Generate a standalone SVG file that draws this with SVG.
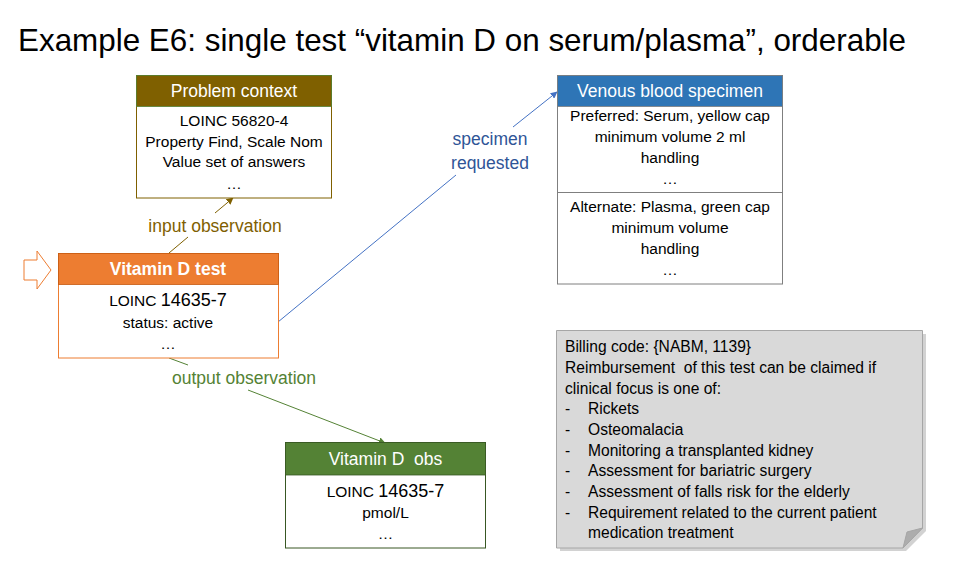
<svg xmlns="http://www.w3.org/2000/svg" width="953" height="567" viewBox="0 0 953 567">
<defs>
<style>
text{font-family:"Liberation Sans",Arial,sans-serif;fill:#000}
.b{font-size:15.5px;text-anchor:middle}
.big{font-size:18px}
.h{font-size:17.5px;text-anchor:middle;fill:#fff}
.lbl{font-size:17.5px;text-anchor:middle}
.n{font-size:15.6px}
</style>
<marker id="aBrown" viewBox="0 0 10 10" refX="9" refY="5" markerWidth="7" markerHeight="7" markerUnits="userSpaceOnUse" orient="auto"><path d="M0,0L10,5L0,10z" fill="#7F6000"/></marker>
<marker id="aBlue" viewBox="0 0 10 10" refX="9" refY="5" markerWidth="7" markerHeight="7" markerUnits="userSpaceOnUse" orient="auto"><path d="M0,0L10,5L0,10z" fill="#4472C4"/></marker>
<marker id="aGreen" viewBox="0 0 10 10" refX="9" refY="5" markerWidth="7" markerHeight="7" markerUnits="userSpaceOnUse" orient="auto"><path d="M0,0L10,5L0,10z" fill="#548235"/></marker>
</defs>
<rect width="953" height="567" fill="#fff"/>
<text x="18" y="51" style="font-size:31.4px">Example E6: single test “vitamin D on serum/plasma”, orderable</text>

<g id="connectors" fill="none" stroke-width="1">
<path d="M169,253 L188,237" stroke="#7F6000"/>
<path d="M215,213 L233,198" stroke="#7F6000" marker-end="url(#aBrown)"/>
<text class="lbl" x="215" y="232" style="fill:#7F6000">input observation</text>
<path d="M278,322 L456,175" stroke="#4472C4"/>
<path d="M513,127 L557,92" stroke="#4472C4" marker-end="url(#aBlue)"/>
<text class="lbl" x="490" y="145" style="fill:#2F5597">specimen</text>
<text class="lbl" x="490" y="169" style="fill:#2F5597">requested</text>
<path d="M169,358 L188,365" stroke="#548235"/>
<path d="M248,390 L385,443" stroke="#548235" marker-end="url(#aGreen)"/>
<text class="lbl" x="244" y="384" style="fill:#548235">output observation</text>
</g>

<g id="entry-arrow">
<path d="M24,260 H37 V251 L51,270 L37,289 V280 H24 Z" fill="#fff" stroke="#ED7D31" stroke-width="1"/>
</g>

<g id="problem-context">
<rect x="136.5" y="75.5" width="195" height="122.5" fill="#fff" stroke="#7F6000"/>
<rect x="136.5" y="75.5" width="195" height="31" fill="#7F6000" stroke="#548235" stroke-width="0.8"/>
<text class="h" x="234" y="97">Problem context</text>
<text class="b" x="234" y="126">LOINC 56820-4</text>
<text class="b" x="234" y="147">Property Find, Scale Nom</text>
<text class="b" x="234" y="167">Value set of answers</text>
<text class="b" x="234" y="189">…</text>
</g>

<g id="vitamin-d-test">
<rect x="58.5" y="253.5" width="220" height="104.5" fill="#fff" stroke="#ED7D31"/>
<rect x="58.5" y="253.5" width="220" height="31" fill="#ED7D31" stroke="#C55A11" stroke-width="0.8"/>
<text class="h" x="168" y="275" style="font-weight:bold">Vitamin D test</text>
<text class="b" x="168" y="306">LOINC <tspan class="big">14635-7</tspan></text>
<text class="b" x="168" y="328">status: active</text>
<text class="b" x="168" y="349">…</text>
</g>

<g id="venous-blood-specimen">
<rect x="557.5" y="75.5" width="225" height="208.5" fill="#fff" stroke="#7F7F7F"/>
<rect x="557.5" y="75.5" width="225" height="31" fill="#2E75B6" stroke="#7F7F7F" stroke-width="0.8"/>
<line x1="557.5" y1="192.5" x2="782.5" y2="192.5" stroke="#7F7F7F"/>
<text class="h" x="670" y="97">Venous blood specimen</text>
<text class="b" x="670" y="121">Preferred: Serum, yellow cap</text>
<text class="b" x="670" y="142">minimum volume 2 ml</text>
<text class="b" x="670" y="163">handling</text>
<text class="b" x="670" y="184">…</text>
<text class="b" x="670" y="212">Alternate: Plasma, green cap</text>
<text class="b" x="670" y="233">minimum volume</text>
<text class="b" x="670" y="254">handling</text>
<text class="b" x="670" y="275">…</text>
</g>

<g id="vitamin-d-obs">
<rect x="285.5" y="442.5" width="200" height="105.5" fill="#fff" stroke="#385723"/>
<rect x="285.5" y="442.5" width="200" height="32.5" fill="#548235" stroke="#385723" stroke-width="0.8"/>
<text class="h" x="385.5" y="465" style="white-space:pre">Vitamin D  obs</text>
<text class="b" x="385.5" y="497">LOINC <tspan class="big">14635-7</tspan></text>
<text class="b" x="385.5" y="518">pmol/L</text>
<text class="b" x="385.5" y="539">…</text>
</g>

<g id="billing-note">
<path d="M560,334 H926 V531 L906,551 H560 Z" fill="#BFBFBF" opacity="0.7"/>
<path d="M556.5,330.5 H922.5 V528 L903,548 H556.5 Z" fill="#D9D9D9" stroke="#A6A6A6"/>
<path d="M922.5,528 L907,532 L903,548 Z" fill="#ADADAD" stroke="#A6A6A6"/>
<text class="n" x="565" y="352">Billing code: {NABM, 1139}</text>
<text class="n" x="565" y="373" style="white-space:pre">Reimbursement  of this test can be claimed if</text>
<text class="n" x="565" y="394">clinical focus is one of:</text>
<text class="n" x="565" y="414">-</text><text class="n" x="588" y="414">Rickets</text>
<text class="n" x="565" y="435">-</text><text class="n" x="588" y="435">Osteomalacia</text>
<text class="n" x="565" y="456">-</text><text class="n" x="588" y="456">Monitoring a transplanted kidney</text>
<text class="n" x="565" y="476">-</text><text class="n" x="588" y="476">Assessment for bariatric surgery</text>
<text class="n" x="565" y="497">-</text><text class="n" x="588" y="497">Assessment of falls risk for the elderly</text>
<text class="n" x="565" y="518">-</text><text class="n" x="588" y="518">Requirement related to the current patient</text>
<text class="n" x="588" y="538">medication treatment</text>
</g>
</svg>
